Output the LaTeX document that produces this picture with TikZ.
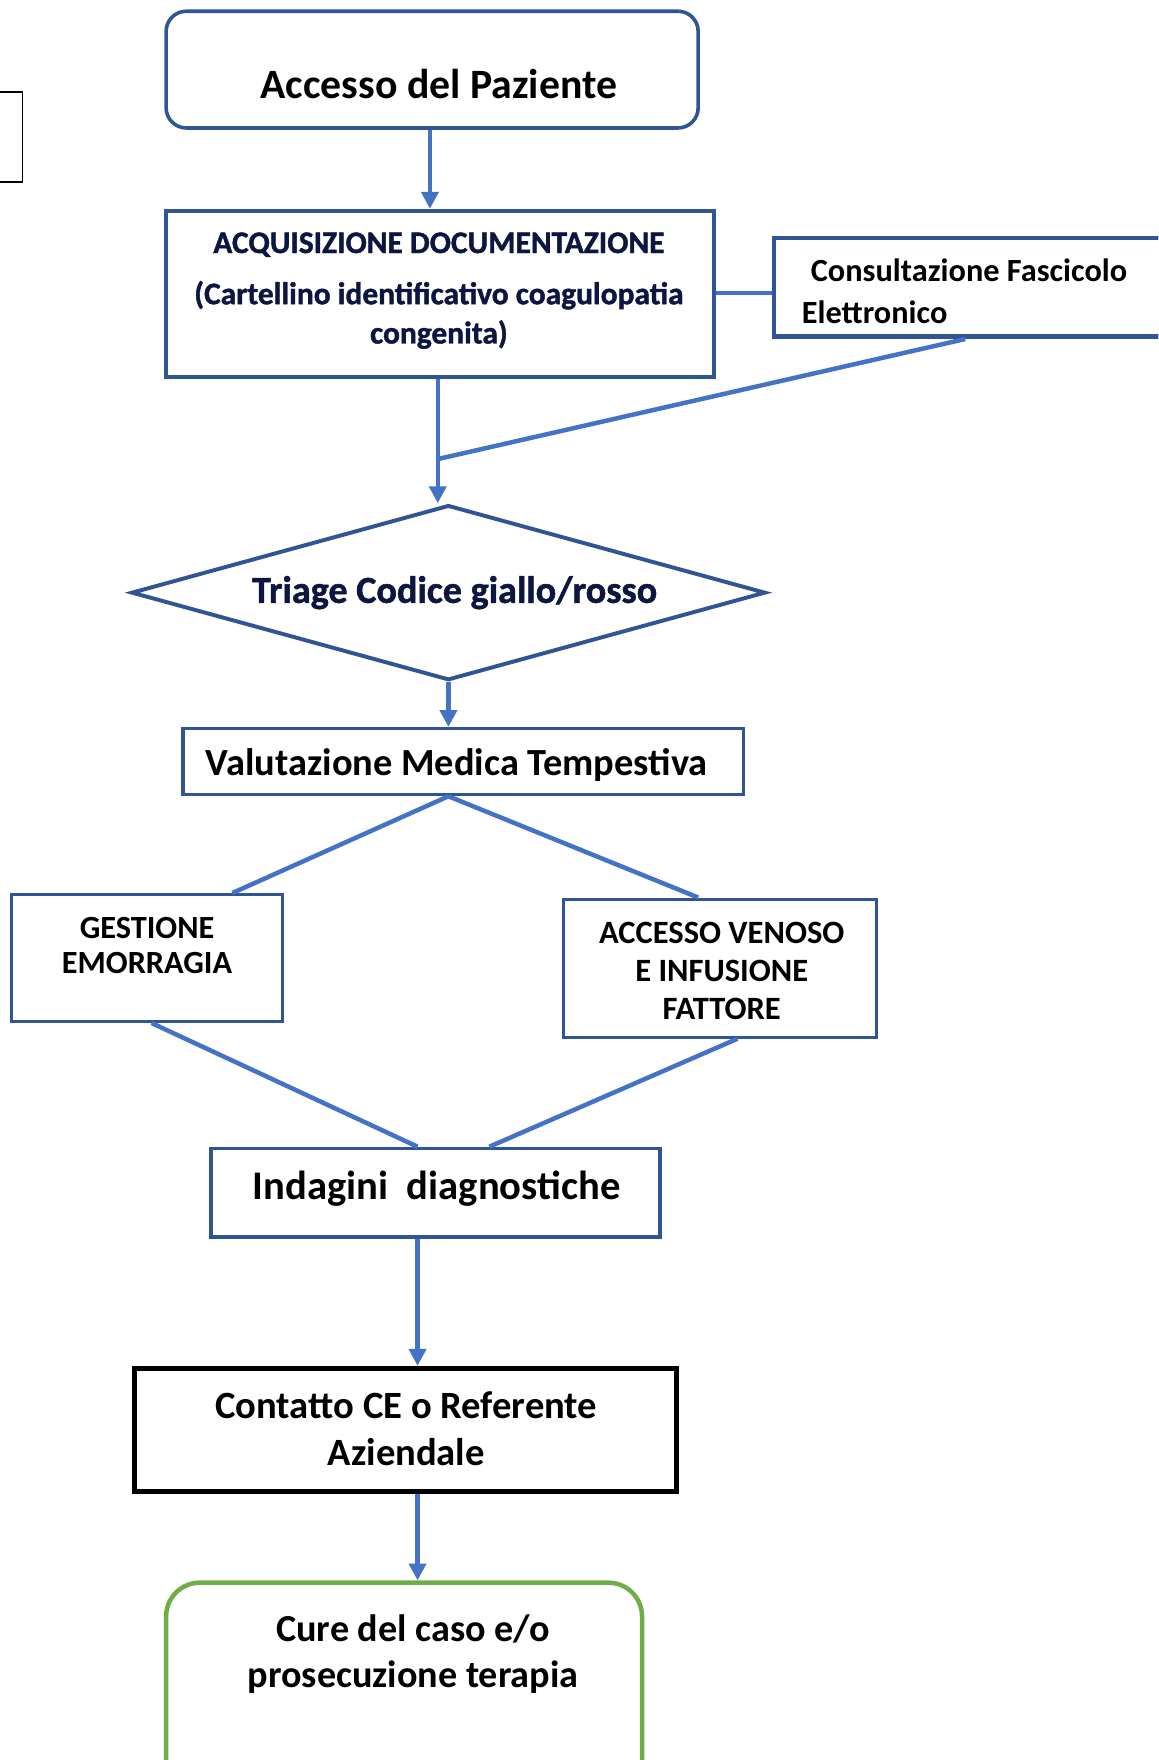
\documentclass[tikz,border=0pt]{standalone}
\usepackage{fontspec}
\setmainfont{Carlito}
\newfontfamily\heavyfont{Carlito}[BoldFeatures={FakeBold=1.3}]
\usetikzlibrary{shapes.geometric,arrows.meta,calc}
\definecolor{boxblue}{HTML}{2F5597}
\definecolor{linkblue}{HTML}{4472C4}
\definecolor{navy}{HTML}{0D1640}
\definecolor{leafgreen}{HTML}{70AD47}
\tikzset{
  size/.style 2 args={minimum width=#1*0.5pt,minimum height=#2*0.5pt,inner sep=0pt},
  bluebox/.style={draw=boxblue,line width=1.6pt,fill=white},
  txt/.style={inner sep=0pt,align=center},
  link/.style={draw=linkblue,line width=2pt},
  arrowlink/.style={link,-{Triangle[width=7.5pt,length=7.5pt]}},
  fs/.style 2 args={font=\fontsize{#1}{#2}\selectfont\bfseries},
  hs/.style 2 args={font=\heavyfont\fontsize{#1}{#2}\selectfont\bfseries,text=navy},
}
\begin{document}
\begin{tikzpicture}[x=0.5pt,y=-0.5pt]
\useasboundingbox (0,0) rectangle (1032,1568);
\fill[white] (0,0) rectangle (1032,1568);
\clip (0,0) rectangle (1032,1568);

% boxes
\node[draw=black,line width=0.75pt,size={40}{80}] (side) at (0,122) {};
\node[bluebox,rounded corners=9pt,size={474}{104}] (acc) at (385,62) {};
\node[bluebox,line width=2pt,size={488}{148}] (acq) at (392,262) {};
\node[bluebox,line width=2pt,size={355}{88}] (con) at (867,256) {};
\node[diamond,draw=boxblue,line width=1.75pt,inner sep=0pt,minimum width=282.5pt,minimum height=78pt] (tri) at (399.5,528) {};
\node[bluebox,line width=1.4pt,size={499}{59}] (val) at (412.5,678.5) {};
\node[bluebox,line width=1.4pt,size={242}{113}] (ges) at (131,853.5) {};
\node[bluebox,line width=1.4pt,size={279}{123}] (ven) at (641.5,862.5) {};
\node[bluebox,line width=1.4pt,size={400}{79}] (ind) at (388,1062.5) {};
\node[draw=black,line width=2.2pt,size={483}{110}] (cce) at (361.5,1274) {};
\node[draw=leafgreen,line width=2pt,rounded corners=15pt,size={424}{190}] (cur) at (360,1505) {};

% texts
\node[txt,fs={18.6}{22}] (accT) at (391,75) {Accesso del Paziente};
\node[txt,hs={14}{17}] (acqT1) at (391,218) {ACQUISIZIONE DOCUMENTAZIONE};
\node[txt,hs={14}{17.5}] (acqT2) at (391,280.5) {(Cartellino identificativo coagulopatia\\congenita)};
\node[txt,fs={14.4}{18.5},anchor=west,align=left] (conT) at (714,259.5) {\hspace{4pt}Consultazione Fascicolo\\Elettronico};
\node[txt,hs={17}{20}] (triT) at (405,528) {Triage Codice giallo/rosso};
\node[txt,fs={17.1}{20}] (valT) at (407,682) {Valutazione Medica Tempestiva};
\node[txt,fs={14.4}{15.5}] (gesT) at (131,842.5) {GESTIONE\\EMORRAGIA};
\node[txt,fs={14.5}{17}] (venT) at (643,865) {ACCESSO VENOSO\\E INFUSIONE\\FATTORE};
\node[txt,fs={18.1}{22}] (indT) at (389,1059) {Indagini\ \ diagnostiche};
\node[txt,fs={17.2}{21}] (cceT) at (362,1273) {Contatto CE o Referente\\Aziendale};
\node[txt,fs={17}{20.5}] (curT) at (368,1473.5) {Cure del caso e/o\\prosecuzione terapia};

% connectors
\coordinate (a1) at ($(acc.south)+(-2,0)$);
\coordinate (a2) at ($(acq.south)+(-2,0)$);
\coordinate (j) at ($(a2)+(0,71)$);
\coordinate (cb) at ($(con.south)+(-7,0)$);
\draw[arrowlink] (a1) -- (a1 |- acq.north);
\draw[link] (acq.east |- 0,261) -- (con.west |- 0,261);
\draw[link] (cb) -- (j);
\draw[arrowlink] (a2) -- (a2 |- tri.north);
\draw[arrowlink] (tri.south) -- (tri.south |- val.north);
\coordinate (vb) at (tri.south |- val.south);
\coordinate (gn) at ($(ges.north)+(76,0)$);
\coordinate (vn) at ($(ven.north)+(-19.5,0)$);
\coordinate (gs) at ($(ges.south)+(4,0)$);
\coordinate (vs) at ($(ven.south)+(15.5,0)$);
\coordinate (in1) at ($(ind.north)+(-16,0)$);
\coordinate (in2) at ($(ind.north)+(48,0)$);
\draw[link] (vb) -- (gn);
\draw[link] (vb) -- (vn);
\draw[link] (gs) -- (in1);
\draw[link] (vs) -- (in2);
\coordinate (col) at ($(ind.south)+(-16,0)$);
\draw[arrowlink] (col) -- (col |- cce.north);
\draw[arrowlink] (col |- cce.south) -- (col |- cur.north);
\end{tikzpicture}
\end{document}
